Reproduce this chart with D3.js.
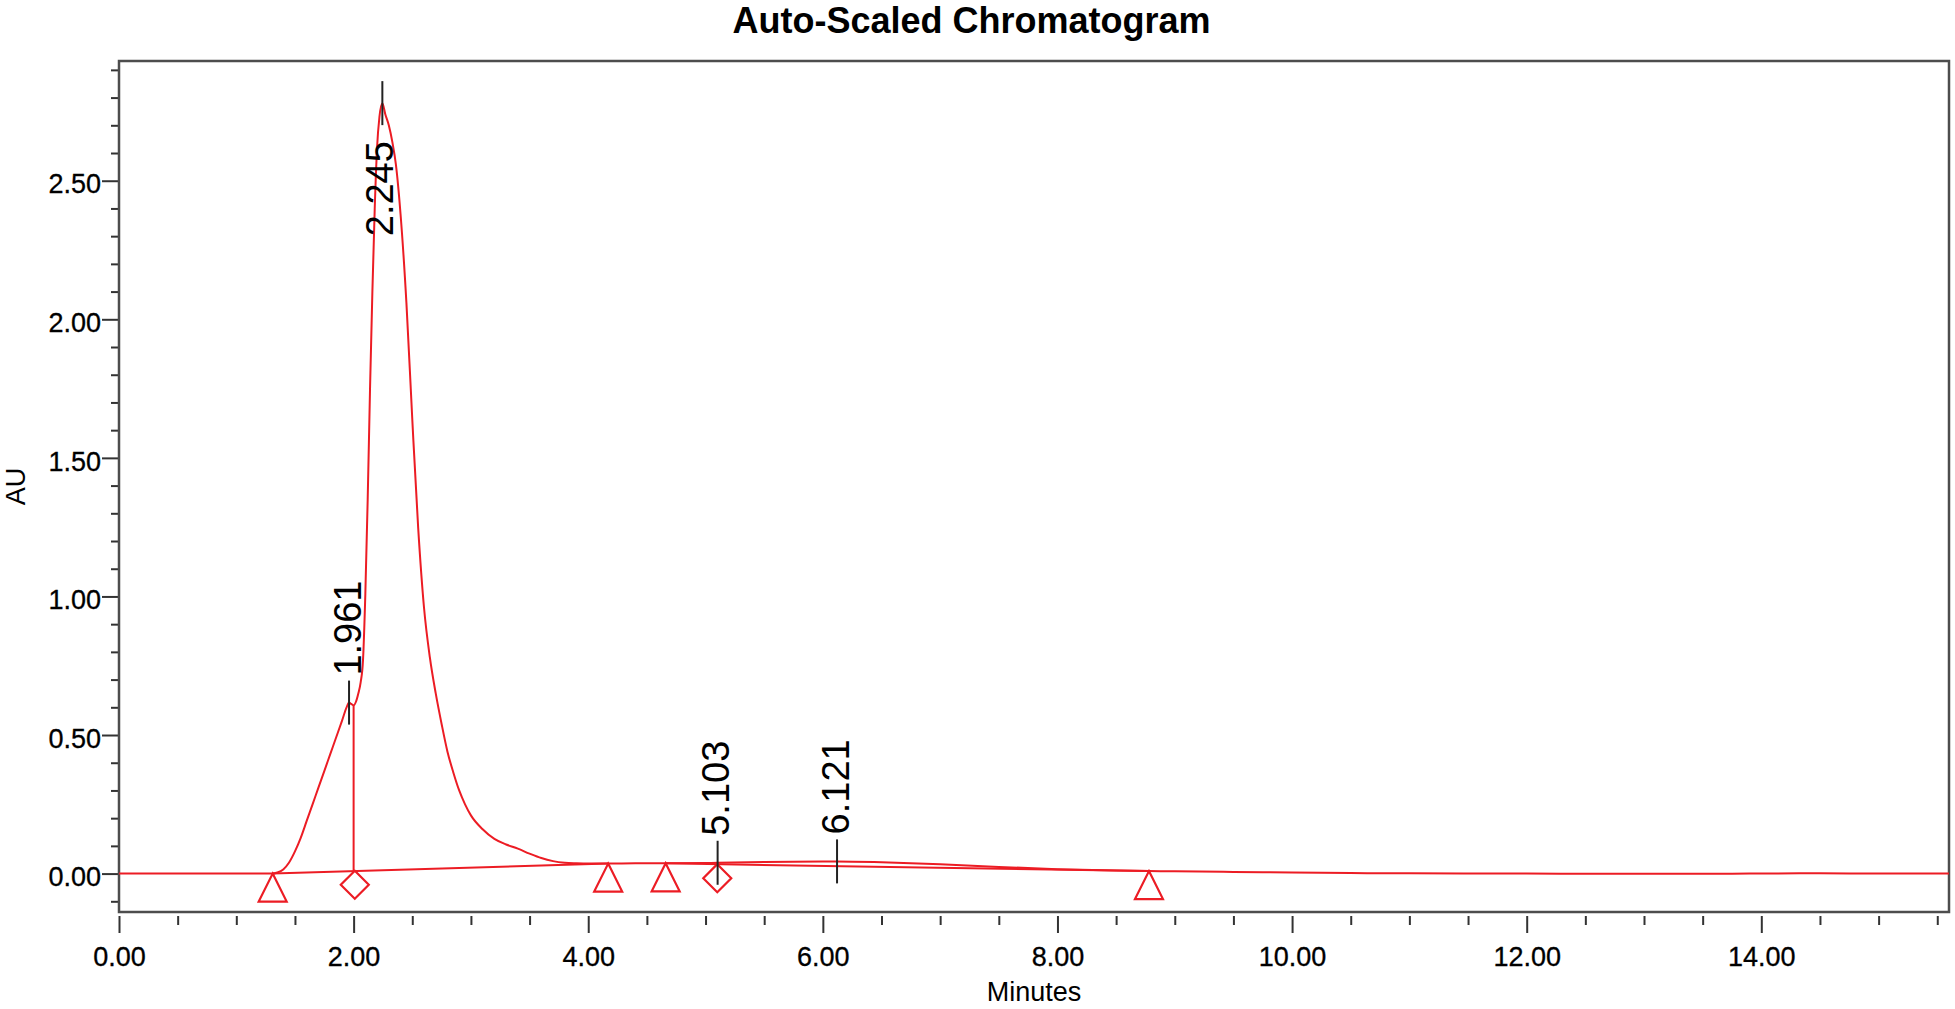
<!DOCTYPE html>
<html>
<head>
<meta charset="utf-8">
<script src="https://cdn.jsdelivr.net/npm/d3@7"></script>
<style>
  html, body { margin: 0; padding: 0; background: #ffffff; }
  svg { display: block; font-family: "Liberation Sans", Arial, sans-serif; }
</style>
</head>
<body>
<div id="chart"></div>
<script>
const title = "Auto-Scaled Chromatogram";
const x_label = "Minutes";
const y_label = "AU";

// detector trace
const trace_min = [0.00, 1.00, 1.30, 1.35, 1.40, 1.45, 1.50, 1.55, 1.60, 1.65, 1.70, 1.75, 1.80, 1.85, 1.90, 1.94,
  1.961, 1.98, 2.00, 2.02, 2.04, 2.06, 2.08, 2.10, 2.12, 2.14, 2.16, 2.18, 2.20, 2.22, 2.245, 2.27, 2.30, 2.33,
  2.36, 2.40, 2.45, 2.50, 2.55, 2.60, 2.65, 2.70, 2.75, 2.80, 2.85, 2.90, 2.95, 3.00, 3.10, 3.20, 3.30, 3.40,
  3.50, 3.60, 3.70, 3.80, 3.90, 4.00, 4.17, 4.40, 4.66, 5.00, 5.103, 5.50, 6.00, 6.121, 6.50, 7.00, 7.50, 8.00,
  8.50, 8.78, 9.00, 9.50, 10.00, 10.50, 11.00, 12.00, 12.80, 13.50, 13.90, 14.50, 15.00, 15.60];
const trace_au = [0.000, 0.000, 0.000, 0.004, 0.015, 0.040, 0.080, 0.130, 0.190, 0.250, 0.310, 0.370, 0.430, 0.490, 0.550, 0.600,
  0.617, 0.612, 0.607, 0.620, 0.650, 0.690, 0.770, 1.010, 1.350, 1.750, 2.100, 2.400, 2.620, 2.730, 2.780, 2.740, 2.700, 2.640,
  2.560, 2.380, 2.060, 1.640, 1.250, 0.960, 0.780, 0.650, 0.540, 0.440, 0.365, 0.300, 0.250, 0.210, 0.160, 0.125, 0.105, 0.090,
  0.072, 0.056, 0.045, 0.039, 0.037, 0.036, 0.036, 0.037, 0.037, 0.038, 0.039, 0.042, 0.044, 0.044, 0.041, 0.034, 0.024, 0.016,
  0.011, 0.009, 0.008, 0.006, 0.004, 0.002, 0.001, 0.000, -0.001, -0.001, 0.000, 0.001, 0.000, 0.000];

// integration baselines [start min, start AU, end min, end AU]
const baseline_segments = [
  [1.31, 0.000, 4.17, 0.036],
  [4.66, 0.037, 8.78, 0.009]
];
// drop line between the two first peaks
const drop_min = [2.00];
const drop_top = [0.607];
const drop_bottom = [0.009];

// peak start / end marks
const triangle_min = [1.31, 4.17, 4.66, 8.78];
const triangle_au = [0.000, 0.036, 0.037, 0.009];
const diamond_min = [2.01, 5.10];
const diamond_au = [0.010, 0.034];

// retention time labels
const peak_rt = [1.961, 2.245, 5.103, 6.121];
const peak_au = [0.617, 2.780, 0.039, 0.044];

const x_major = [0, 2, 4, 6, 8, 10, 12, 14];
const x_minor = [0.5, 1, 1.5, 2.5, 3, 3.5, 4.5, 5, 5.5, 6.5, 7, 7.5, 8.5, 9, 9.5, 10.5, 11, 11.5, 12.5, 13, 13.5, 14.5, 15, 15.5];
const y_major = [0, 0.5, 1, 1.5, 2, 2.5];
const y_minor = [-0.1, 0.1, 0.2, 0.3, 0.4, 0.6, 0.7, 0.8, 0.9, 1.1, 1.2, 1.3, 1.4, 1.6, 1.7, 1.8, 1.9, 2.1, 2.2, 2.3, 2.4, 2.6, 2.7, 2.8, 2.9];

const red = "#ec1c24";

draw_chromatogram('chart');

function draw_chromatogram(target) {
    const W = 1955, H = 1009;
    const svg = d3.select('#' + target).append("svg")
        .attr("width", W)
        .attr("height", H);
    const margin = {top: 61, right: 6, bottom: 97, left: 119},
        width = W - margin.left - margin.right,
        height = H - margin.top - margin.bottom;
    const g = svg.append("g").attr("transform", `translate(${margin.left},${margin.top})`);

    const x = d3.scaleLinear().domain([0, 15.6]).range([0, width]);
    const y = d3.scaleLinear().domain([-0.1386, 2.932]).range([height, 0]);

    svg.append("defs").append("clipPath").attr("id", "plot-clip")
        .append("rect").attr("width", width).attr("height", height);

    // title
    svg.append("text")
        .attr("x", W / 2 - 6)
        .attr("y", 33)
        .attr("text-anchor", "middle")
        .attr("font-size", 36)
        .attr("font-weight", "bold")
        .text(title);

    // y axis, major + minor ticks
    const yMajor = g.append("g")
        .call(d3.axisLeft(y).tickValues(y_major).tickSize(17).tickPadding(1).tickFormat(d3.format(".2f")));
    yMajor.selectAll("text").attr("font-size", 27).attr("dy", "0.45em");
    g.append("g")
        .call(d3.axisLeft(y).tickValues(y_minor).tickSize(8).tickFormat(""));

    // x axis, a few px below the frame like the original
    const xMajor = g.append("g")
        .attr("transform", `translate(0,${height + 4})`)
        .call(d3.axisBottom(x).tickValues(x_major).tickSize(17).tickFormat(d3.format(".2f")));
    xMajor.selectAll("text").attr("font-size", 27).attr("y", 50).attr("dy", 0);
    g.append("g")
        .attr("transform", `translate(0,${height + 4})`)
        .call(d3.axisBottom(x).tickValues(x_minor).tickSize(9).tickFormat(""));

    g.selectAll(".domain").remove();
    g.selectAll(".tick line").attr("stroke", "#333").attr("stroke-width", 2);
    g.selectAll(".tick text").attr("fill", "#000").attr("stroke", "#000").attr("stroke-width", 0.3);

    // frame
    g.append("rect")
        .attr("width", width)
        .attr("height", height)
        .attr("fill", "none")
        .attr("stroke", "#4d4d4d")
        .attr("stroke-width", 2.5);

    // axis titles
    g.append("text")
        .attr("x", width / 2)
        .attr("y", height + 89)
        .attr("text-anchor", "middle")
        .attr("font-size", 27)
        .text(x_label);
    svg.append("text")
        .attr("transform", `translate(25,${margin.top + height / 2}) rotate(-90)`)
        .attr("text-anchor", "middle")
        .attr("font-size", 27)
        .text(y_label);

    const plot = g.append("g").attr("clip-path", "url(#plot-clip)");

    // baselines
    plot.selectAll(".baseline").data(baseline_segments)
        .enter().append("line")
        .attr("class", "baseline")
        .attr("x1", d => x(d[0])).attr("y1", d => y(d[1]))
        .attr("x2", d => x(d[2])).attr("y2", d => y(d[3]))
        .attr("stroke", red).attr("stroke-width", 2);

    plot.selectAll(".drop").data(drop_min)
        .enter().append("line")
        .attr("class", "drop")
        .attr("x1", d => x(d)).attr("x2", d => x(d))
        .attr("y1", (d, i) => y(drop_top[i]))
        .attr("y2", (d, i) => y(drop_bottom[i]))
        .attr("stroke", red).attr("stroke-width", 2);

    // trace
    const trace = trace_min.map((t, i) => ({t: t, v: trace_au[i]}));
    const line = d3.line()
        .x(d => x(d.t))
        .y(d => y(d.v))
        .curve(d3.curveMonotoneX);
    plot.append("path")
        .datum(trace)
        .attr("fill", "none")
        .attr("stroke", red)
        .attr("stroke-width", 2)
        .attr("stroke-linejoin", "round")
        .attr("d", line);

    // start/end marks
    const mk = 14, th = 28;
    g.selectAll(".tri").data(triangle_min)
        .enter().append("path")
        .attr("class", "tri")
        .attr("d", (d, i) => {
            const cx = x(d), cy = y(triangle_au[i]);
            return `M${cx},${cy}L${cx + mk},${cy + th}L${cx - mk},${cy + th}Z`;
        })
        .attr("fill", "none").attr("stroke", red).attr("stroke-width", 2.2);
    g.selectAll(".dia").data(diamond_min)
        .enter().append("path")
        .attr("class", "dia")
        .attr("d", (d, i) => {
            const cx = x(d), cy = y(diamond_au[i]);
            return `M${cx},${cy}L${cx + mk},${cy + mk}L${cx},${cy + 2 * mk}L${cx - mk},${cy + mk}Z`;
        })
        .attr("fill", "none").attr("stroke", red).attr("stroke-width", 2.2);

    // retention time ticks + labels
    const half = 22, gap = 5, label_size = 38;
    peak_rt.forEach((rt, i) => {
        const px = x(rt), py = y(peak_au[i]);
        g.append("line")
            .attr("x1", px).attr("x2", px)
            .attr("y1", py - half).attr("y2", py + half)
            .attr("stroke", "#222").attr("stroke-width", 2);
        const lbl = g.append("text")
            .attr("font-size", label_size)
            .attr("dy", "0.36em")
            .text(rt.toFixed(3));
        const len = lbl.node().getComputedTextLength();
        if (py - half - gap - len < 0) {
            // no room above: put it under the tick
            lbl.attr("text-anchor", "end")
               .attr("transform", `translate(${px - 3},${py + half + 16}) rotate(-90)`);
        } else {
            lbl.attr("text-anchor", "start")
               .attr("transform", `translate(${px - 2},${py - half - gap}) rotate(-90)`);
        }
    });
}
</script>
</body>
</html>
